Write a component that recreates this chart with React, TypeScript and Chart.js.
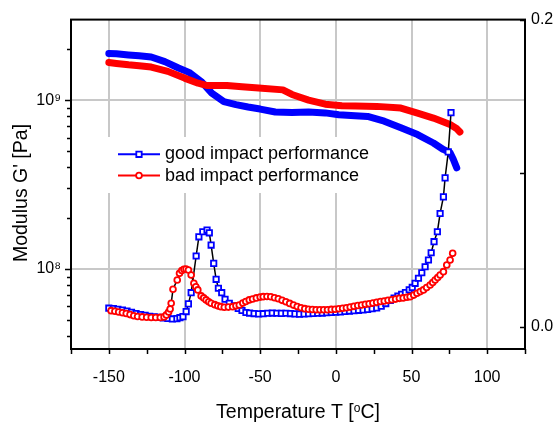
import React, { useEffect, useRef } from 'react';
import { Chart, registerables } from 'chart.js';

Chart.register(...registerables);

const FONT = '"Liberation Sans", Arial, sans-serif';
const BLUE = '#0000ff';
const RED = '#ff0000';
const GRID = '#c8c8c8';

// Storage modulus G' [Pa] — good impact performance
const goodModT = [-150, -145, -137, -130, -122, -113, -104, -97, -89, -82, -74, -66, -58, -50, -40, -29, -18, -7, 2, 10, 21, 32, 43, 54, 64.5, 71, 75.5, 77.6, 79.9];
const goodModG = [1.89e9, 1.88e9, 1.85e9, 1.83e9, 1.8e9, 1.69e9, 1.55e9, 1.46e9, 1.29e9, 1.1e9, 9.8e8, 9.4e8, 9.1e8, 8.85e8, 8.5e8, 8.45e8, 8.5e8, 8.4e8, 8.2e8, 8.1e8, 8.0e8, 7.5e8, 6.85e8, 6.25e8, 5.57e8, 5.1e8, 4.88e8, 4.46e8, 3.97e8];

// Storage modulus G' [Pa] — bad impact performance
const badModT = [-150, -145, -137, -130, -122, -111, -100, -91, -85, -78, -72, -62, -51, -35, -29, -18, -7, 4, 13, 27, 43, 54, 64.5, 75.5, 80, 82];
const badModG = [1.67e9, 1.65e9, 1.62e9, 1.6e9, 1.57e9, 1.48e9, 1.35e9, 1.26e9, 1.22e9, 1.22e9, 1.22e9, 1.2e9, 1.18e9, 1.15e9, 1.08e9, 1.0e9, 9.46e8, 9.27e8, 9.23e8, 9.18e8, 8.97e8, 8.38e8, 7.83e8, 7.16e8, 6.76e8, 6.47e8];

// Loss factor (right axis) — good impact performance
const goodTanT = [-150, -147, -144, -141, -138, -135, -132, -129, -126, -123, -120, -117, -114, -111, -108, -105, -103, -101, -98.9, -97.4, -95.6, -92.3, -90.5, -87.9, -85.1, -83.6, -82.4, -80.7, -79.1, -77.6, -75.4, -73.2, -70.4, -67.1, -64.5, -62, -59.4, -57, -54, -51, -48, -45, -42, -39, -36, -33, -30, -27, -24, -21, -18, -15, -12, -9, -6, -3, 0, 3, 6, 9, 12, 15, 18, 21, 24, 27, 30, 33, 36, 38.5, 41, 43.5, 46, 48.5, 50.5, 52.4, 54.6, 56.8, 59, 61.2, 63, 64.9, 67.1, 68.9, 71.1, 72.2, 74.3, 76.1];
const goodTan = [0.012, 0.0118, 0.0113, 0.0108, 0.0101, 0.0093, 0.0085, 0.0079, 0.0073, 0.0067, 0.0063, 0.006, 0.0057, 0.0053, 0.005, 0.0052, 0.0058, 0.0065, 0.0098, 0.0148, 0.0221, 0.046, 0.0585, 0.0618, 0.0629, 0.0611, 0.0531, 0.0412, 0.0308, 0.025, 0.0221, 0.0178, 0.0152, 0.0135, 0.0118, 0.0105, 0.0092, 0.0088, 0.0085, 0.0083, 0.0084, 0.0087, 0.0088, 0.0087, 0.0086, 0.0087, 0.0085, 0.0083, 0.0081, 0.0082, 0.0084, 0.0086, 0.0087, 0.0088, 0.009, 0.0092, 0.0094, 0.0096, 0.0099, 0.0101, 0.0103, 0.0106, 0.0109, 0.0112, 0.0116, 0.0121, 0.0133, 0.015, 0.017, 0.0186, 0.0198, 0.021, 0.0222, 0.024, 0.0255, 0.0282, 0.0315, 0.0351, 0.039, 0.0434, 0.0481, 0.0553, 0.0618, 0.0737, 0.0845, 0.0969, 0.1138, 0.1394];

// Loss factor (right axis) — bad impact performance
const badTanT = [-148.5, -146, -143.5, -141, -138.5, -136, -133.5, -131, -128, -125, -122, -119, -116, -113.5, -112, -110.5, -109.5, -108.8, -107.6, -104.8, -103.3, -101.8, -100.4, -99, -97.4, -95.6, -93.8, -92.5, -91.2, -89, -87.3, -85.7, -84, -82.4, -80, -78, -76, -73.7, -71, -68.2, -66, -63.8, -61.5, -59.5, -57.2, -55, -52.5, -50, -48, -45.5, -43, -40.5, -38, -35.5, -33, -30.5, -28, -25.5, -23, -20.5, -18, -15.5, -13, -10.5, -8, -5.5, -3, -0.5, 2, 4.5, 7, 9.5, 12, 14.5, 17, 19.5, 22, 24.5, 27, 29.5, 32, 34.5, 37, 39.5, 42, 44.5, 47, 49.1, 51.5, 53.6, 55.8, 57.9, 60, 62.3, 64, 65.6, 67.3, 68.9, 71.1, 73.3, 75.5, 77.2];
const badTan = [0.0104, 0.01, 0.0095, 0.009, 0.0085, 0.0078, 0.0071, 0.0066, 0.0063, 0.0061, 0.0059, 0.0059, 0.006, 0.0063, 0.0076, 0.0095, 0.0115, 0.0152, 0.0243, 0.0304, 0.0347, 0.0365, 0.0373, 0.0375, 0.0369, 0.0336, 0.0282, 0.026, 0.0239, 0.02, 0.0187, 0.0174, 0.0162, 0.0152, 0.0143, 0.0135, 0.013, 0.0126, 0.0127, 0.013, 0.0135, 0.0141, 0.0153, 0.0163, 0.0174, 0.018, 0.0187, 0.0192, 0.0195, 0.0196, 0.0194, 0.0188, 0.0181, 0.0171, 0.0162, 0.0151, 0.014, 0.0131, 0.0123, 0.0117, 0.0113, 0.0111, 0.011, 0.0109, 0.011, 0.011, 0.0112, 0.0113, 0.0116, 0.0119, 0.0123, 0.0127, 0.0132, 0.0137, 0.0141, 0.0145, 0.0149, 0.0153, 0.0158, 0.0163, 0.0167, 0.0171, 0.0175, 0.0179, 0.0184, 0.0187, 0.0191, 0.0195, 0.0205, 0.0217, 0.0228, 0.0239, 0.0254, 0.0271, 0.0287, 0.0304, 0.032, 0.0336, 0.0358, 0.0401, 0.0434, 0.0477];

// Axes
const xMin = -175;
const xMax = 125;
const xStep = 25;
const xLabelStep = 50;
const leftMin = 3.35e7;
const leftMax = 3e9;
const leftTickValues = [4e7, 5e7, 6e7, 7e7, 8e7, 9e7, 1e8, 2e8, 3e8, 4e8, 5e8, 6e8, 7e8, 8e8, 9e8, 1e9, 2e9];
const leftMajorValues = [1e8, 1e9];
const leftMajorLabels = ['10\u2078', '10\u2079'];
const rightMin = -0.0146;
const rightMax = 0.2;
const rightTickValues = [0, 0.1, 0.2];
const rightLabeled = [0, 0.2];

const seriesNames = ['good impact performance', 'bad impact performance'];
const yTitle = "Modulus G' [Pa]";
const xTitleParts = ['Temperature T [', 'o', 'C]'];

const pts = (xs: number[], ys: number[]) => xs.map((x, i) => ({ x, y: ys[i] }));

function drawMarker(ctx: CanvasRenderingContext2D, kind: string, x: number, y: number, color: string) {
  ctx.save();
  ctx.strokeStyle = color;
  ctx.fillStyle = '#fff';
  ctx.lineWidth = 1.8;
  ctx.beginPath();
  if (kind === 'rect') {
    const s = 3.8 * Math.SQRT1_2;
    ctx.rect(x - s, y - s, 2 * s, 2 * s);
  } else {
    ctx.arc(x, y, 2.9, 0, Math.PI * 2);
  }
  ctx.fill();
  ctx.stroke();
  ctx.restore();
}

const decor = {
  id: 'decor',
  afterDatasetsDraw(chart: any) {
    const { ctx } = chart;
    ctx.save();
    // legend box
    ctx.fillStyle = '#fff';
    ctx.fillRect(104, 137, 271, 56);
    const entries = [
      { color: BLUE, kind: 'rect', y: 154.3, name: seriesNames[0] },
      { color: RED, kind: 'circle', y: 175.5, name: seriesNames[1] },
    ];
    ctx.font = `18px ${FONT}`;
    ctx.textAlign = 'left';
    ctx.textBaseline = 'alphabetic';
    for (const e of entries) {
      ctx.strokeStyle = e.color;
      ctx.lineWidth = 2;
      ctx.beginPath();
      ctx.moveTo(118, e.y);
      ctx.lineTo(160, e.y);
      ctx.stroke();
      drawMarker(ctx, e.kind, 139, e.y, e.color);
      ctx.fillStyle = '#000';
      ctx.fillText(e.name, 165, e.y + 5);
    }
    ctx.restore();
  },
  afterDraw(chart: any) {
    const { ctx, chartArea: a, scales } = chart;
    ctx.save();
    ctx.strokeStyle = '#000';
    // ticks
    ctx.lineWidth = 1.5;
    ctx.beginPath();
    for (const t of scales.x.ticks) {
      const px = Math.round(scales.x.getPixelForValue(t.value)) + 0.5;
      ctx.moveTo(px, a.bottom);
      ctx.lineTo(px, a.bottom + 5);
    }
    for (const t of scales.y.ticks) {
      const py = Math.round(scales.y.getPixelForValue(t.value)) + 0.5;
      const len = leftMajorValues.includes(t.value) ? 6 : 4;
      ctx.moveTo(a.left - len, py);
      ctx.lineTo(a.left, py);
    }
    for (const t of scales.y2.ticks) {
      const py = Math.round(scales.y2.getPixelForValue(t.value)) + 0.5;
      ctx.moveTo(a.right - 5, py);
      ctx.lineTo(a.right, py);
    }
    ctx.stroke();
    // frame
    ctx.lineWidth = 2;
    ctx.strokeRect(a.left, a.top, a.right - a.left, a.bottom - a.top);

    // titles
    ctx.fillStyle = '#000';
    ctx.font = `19.5px ${FONT}`;
    ctx.save();
    ctx.translate(21.5, 193);
    ctx.rotate(-Math.PI / 2);
    ctx.textAlign = 'center';
    ctx.textBaseline = 'middle';
    ctx.fillText(yTitle, 0, 0);
    ctx.restore();

    ctx.textAlign = 'left';
    ctx.textBaseline = 'alphabetic';
    const big = `19.5px ${FONT}`;
    const small = `12px ${FONT}`;
    ctx.font = big;
    const w0 = ctx.measureText(xTitleParts[0]).width;
    const w2 = ctx.measureText(xTitleParts[2]).width;
    ctx.font = small;
    const w1 = ctx.measureText(xTitleParts[1]).width;
    const total = w0 + w1 + w2;
    let x = (a.left + a.right) / 2 - total / 2;
    const base = 418;
    ctx.font = big;
    ctx.fillText(xTitleParts[0], x, base);
    x += w0;
    ctx.font = small;
    ctx.fillText(xTitleParts[1], x, base - 6.5);
    x += w1;
    ctx.font = big;
    ctx.fillText(xTitleParts[2], x, base);
    ctx.restore();
  },
};

export default function App() {
  const ref = useRef<HTMLCanvasElement>(null);
  useEffect(() => {
    const tickFont = { family: FONT, size: 16 };
    const chart = new Chart(ref.current as HTMLCanvasElement, {
      type: 'line',
      data: {
        datasets: [
          {
            label: 'bad tan',
            data: pts(badTanT, badTan),
            yAxisID: 'y2',
            borderColor: '#000',
            borderWidth: 1.5,
            pointStyle: 'circle',
            pointRadius: 2.9,
            pointBorderWidth: 1.8,
            pointBorderColor: RED,
            pointBackgroundColor: '#fff',
            order: 0,
          },
          {
            label: 'good tan',
            data: pts(goodTanT, goodTan),
            yAxisID: 'y2',
            borderColor: '#000',
            borderWidth: 1.5,
            pointStyle: 'rect',
            pointRadius: 3.8,
            pointBorderWidth: 1.8,
            pointBorderColor: BLUE,
            pointBackgroundColor: '#fff',
            order: 1,
          },
          {
            label: 'bad G',
            data: pts(badModT, badModG),
            yAxisID: 'y',
            borderColor: RED,
            borderWidth: 7,
            borderCapStyle: 'round',
            borderJoinStyle: 'round',
            pointRadius: 0,
            order: 2,
          },
          {
            label: 'good G',
            data: pts(goodModT, goodModG),
            yAxisID: 'y',
            borderColor: BLUE,
            borderWidth: 7,
            borderCapStyle: 'round',
            borderJoinStyle: 'round',
            pointRadius: 0,
            order: 3,
          },
        ],
      },
      options: {
        responsive: false,
        animation: false,
        devicePixelRatio: 1,
        events: [],
        layout: { padding: { top: 18, left: 0, right: 0, bottom: 0 } },
        plugins: { legend: { display: false }, tooltip: { enabled: false } },
        scales: {
          x: {
            type: 'linear',
            position: 'bottom',
            min: xMin,
            max: xMax,
            afterFit: (s: any) => { s.height = 74; },
            ticks: {
              stepSize: xStep,
              autoSkip: false,
              maxRotation: 0,
              padding: 19,
              color: '#000',
              font: tickFont,
              callback: (v: any) => (v % xLabelStep === 0 ? String(v) : ''),
            },
            grid: {
              drawTicks: false,
              lineWidth: 2,
              color: (c: any) => (c.tick && c.tick.value % xLabelStep === 0 ? GRID : 'rgba(0,0,0,0)'),
            },
            border: { display: false },
          },
          y: {
            type: 'logarithmic',
            position: 'left',
            min: leftMin,
            max: leftMax,
            afterFit: (s: any) => { s.width = 71; },
            afterBuildTicks: (s: any) => { s.ticks = leftTickValues.map((v) => ({ value: v })); },
            ticks: {
              autoSkip: false,
              padding: 10,
              color: '#000',
              font: tickFont,
              callback: (v: any) => {
                const i = leftMajorValues.indexOf(v);
                return i >= 0 ? leftMajorLabels[i] : '';
              },
            },
            grid: {
              drawTicks: false,
              lineWidth: 2,
              color: (c: any) => (c.tick && leftMajorValues.includes(c.tick.value) ? GRID : 'rgba(0,0,0,0)'),
            },
            border: { display: false },
          },
          y2: {
            type: 'linear',
            position: 'right',
            min: rightMin,
            max: rightMax,
            afterFit: (s: any) => { s.width = 30; },
            afterBuildTicks: (s: any) => { s.ticks = rightTickValues.map((v) => ({ value: v })); },
            ticks: {
              autoSkip: false,
              padding: 6,
              color: '#000',
              font: tickFont,
              callback: (v: any) => (rightLabeled.includes(v) ? Number(v).toFixed(1) : ''),
            },
            grid: { drawOnChartArea: false, drawTicks: false },
            border: { display: false },
          },
        },
      },
      plugins: [decor],
    } as any);
    return () => chart.destroy();
  }, []);
  return (
    <div style={{ position: 'fixed', left: 0, top: 0, width: 555, height: 423, background: '#fff' }}>
      <canvas ref={ref} width={555} height={423} style={{ display: 'block', width: 555, height: 423 }} />
    </div>
  );
}
